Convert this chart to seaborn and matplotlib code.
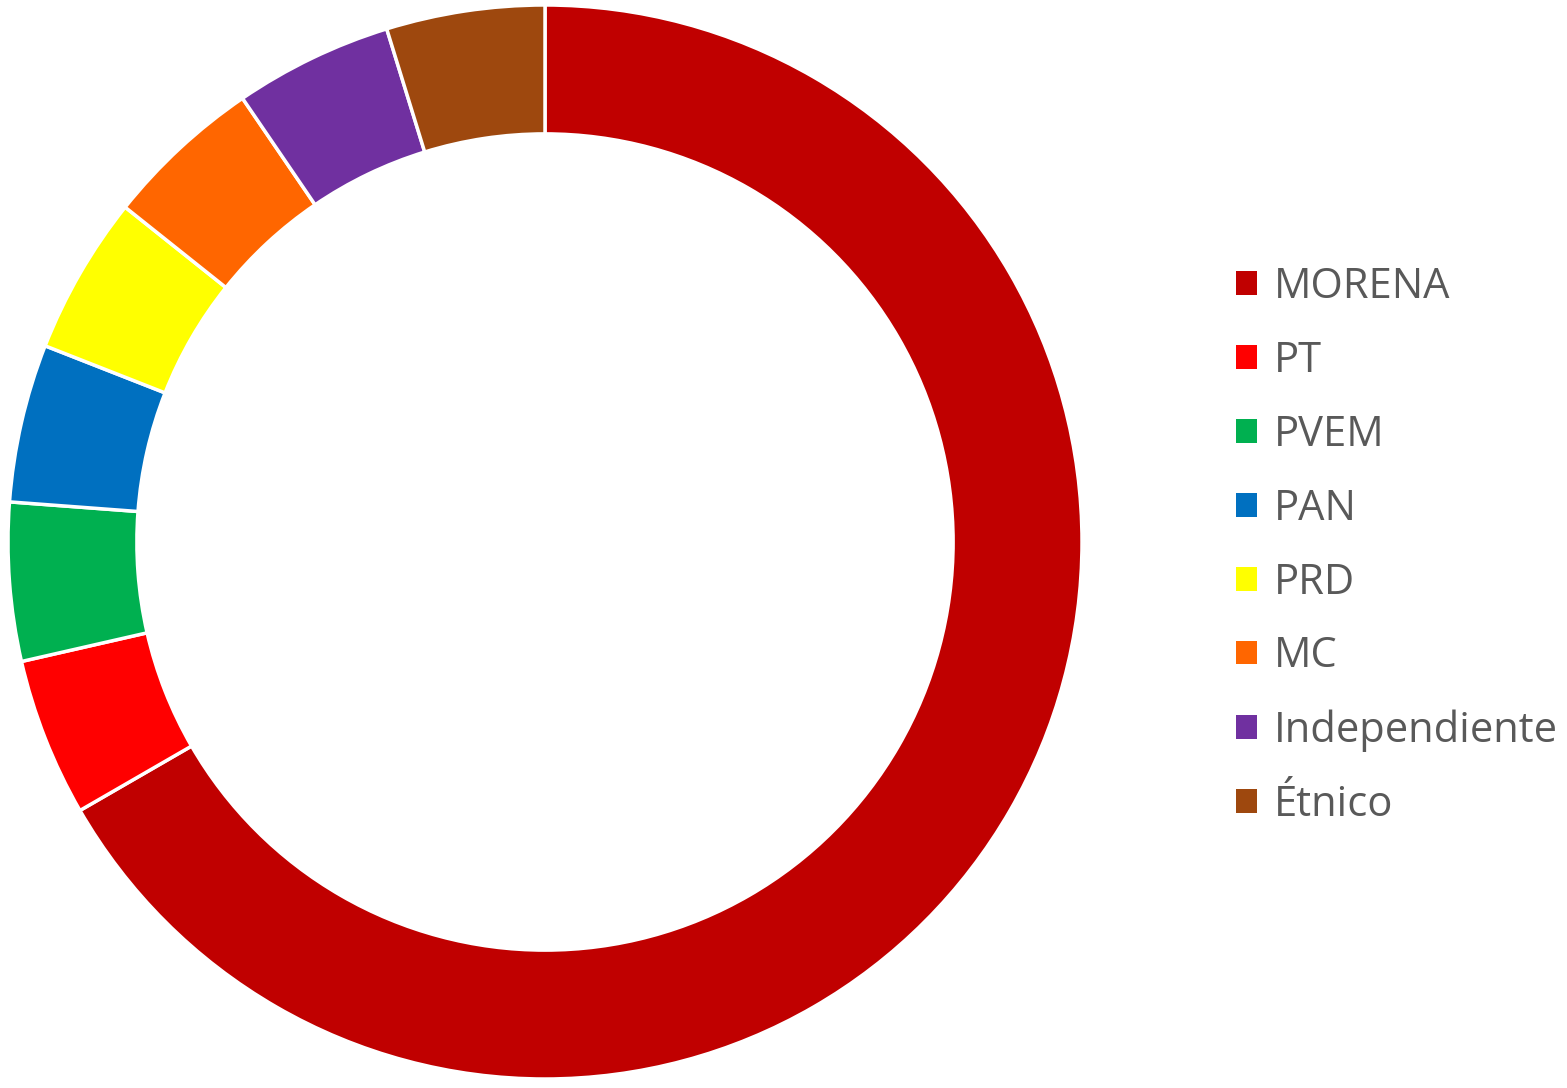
import matplotlib
matplotlib.use("Agg")
import matplotlib.pyplot as plt
import seaborn as sns
from matplotlib.patches import Patch

# data (MORENA covers 2/3 of the ring, the rest share equally)
partidos = ["MORENA", "PT", "PVEM", "PAN", "PRD", "MC", "Independiente", "Étnico"]
escanos = [14, 1, 1, 1, 1, 1, 1, 1]
colores = ["#C00000", "#FF0000", "#00B050", "#0070C0",
           "#FFFF00", "#FF6600", "#7030A0", "#9E480E"]


def main():
    sns.set_theme(style="white")
    plt.rcParams["font.family"] = ["Open Sans", "DejaVu Sans"]
    palette = sns.color_palette(colores)

    fig = plt.figure(figsize=(15.67, 10.88), dpi=100)
    ax = fig.add_axes([8 / 1567, 9 / 1088, 1074 / 1567, 1074 / 1088])
    ax.pie(escanos, colors=palette, startangle=90, counterclock=False,
           radius=1.0,
           wedgeprops=dict(width=0.24, edgecolor="white", linewidth=2.5))
    ax.set_xlim(-1, 1)
    ax.set_ylim(-1, 1)
    ax.set_aspect("equal")
    ax.axis("off")

    handles = [Patch(facecolor=c, edgecolor="none") for c in palette]
    fig.legend(handles, partidos, loc="upper left",
               bbox_to_anchor=(1236 / 1567, 1 - 266 / 1088),
               frameon=False, fontsize=30, labelcolor="#595959",
               handlelength=0.5, handleheight=0.5, handletextpad=0.42,
               labelspacing=0.765, borderpad=0, borderaxespad=0)

    fig.savefig("out.png", dpi=100, facecolor="white")


if __name__ == "__main__":
    main()
